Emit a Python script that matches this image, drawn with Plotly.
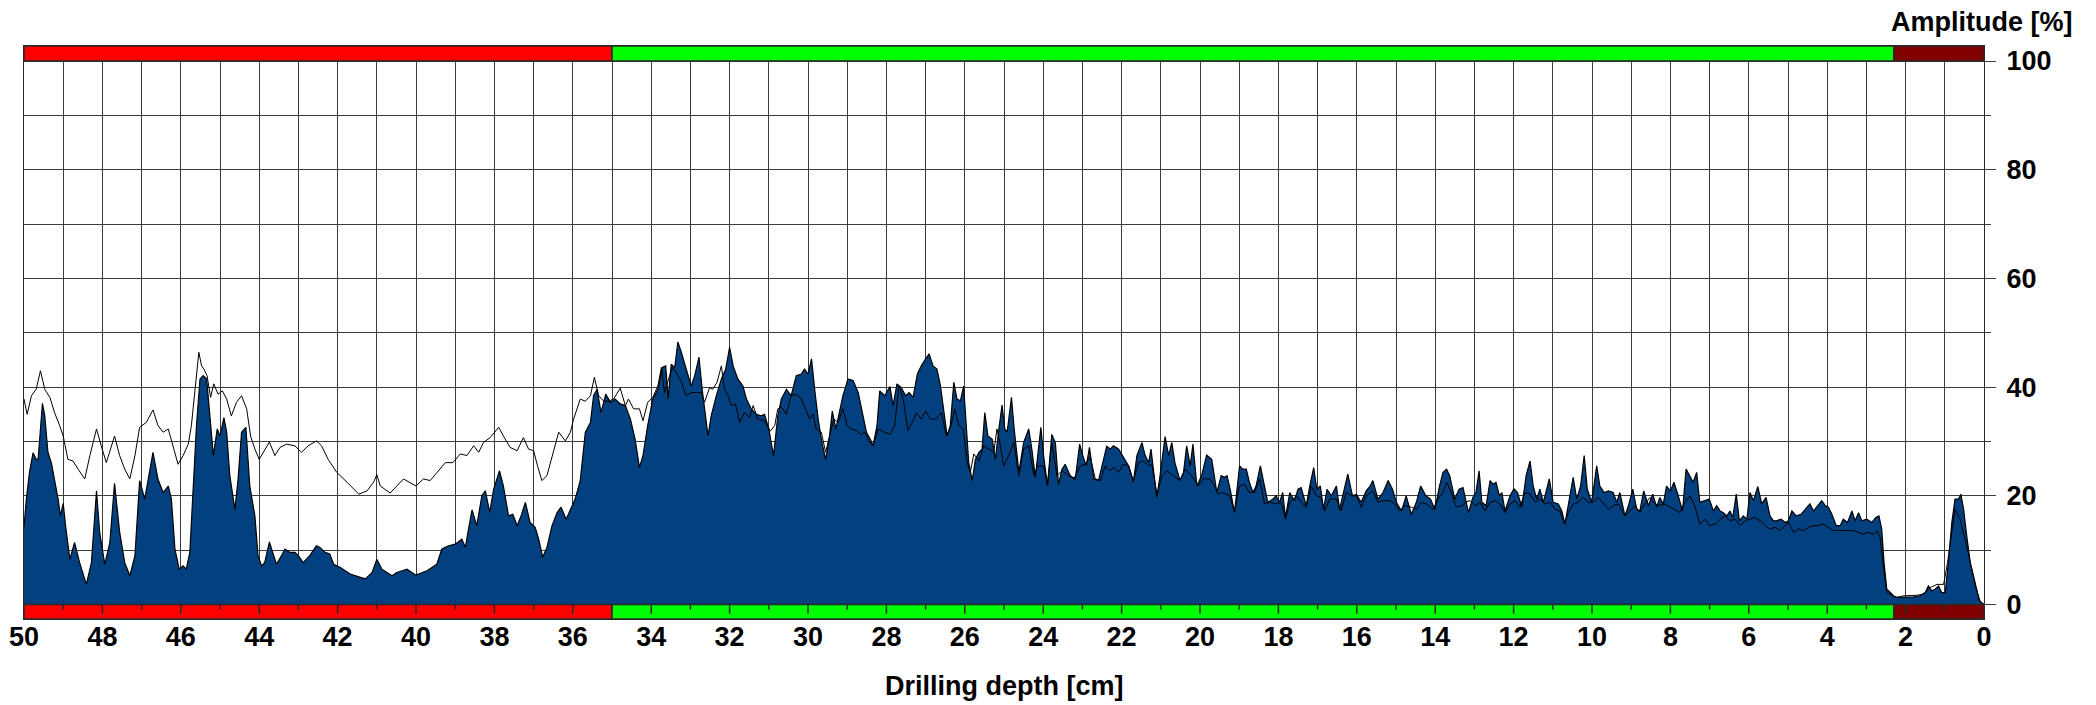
import plotly.graph_objects as go

# ---------------- data ----------------
drill_points = [
    (50.00, 14.2), (49.94, 19.4), (49.86, 24.3), (49.77, 27.9), (49.69, 26.7), (49.64, 26.7), (49.60, 30.4),
    (49.53, 37.0), (49.47, 34.7), (49.39, 28.0), (49.30, 26.0), (49.22, 23.0), (49.13, 19.4), (49.07, 16.3),
    (49.00, 18.6), (48.94, 14.5), (48.83, 8.3), (48.71, 11.4), (48.58, 7.7), (48.41, 3.7), (48.28, 7.7),
    (48.15, 20.9), (48.07, 13.3), (47.94, 7.4), (47.81, 11.4), (47.69, 22.3), (47.56, 13.3), (47.43, 7.7),
    (47.30, 5.3), (47.17, 9.0), (47.05, 22.8), (46.92, 19.4), (46.81, 23.7), (46.71, 28.0), (46.58, 23.0),
    (46.45, 20.6), (46.32, 21.8), (46.24, 19.4), (46.15, 10.2), (46.04, 6.5), (45.94, 7.1), (45.86, 6.5),
    (45.77, 9.6), (45.69, 20.6), (45.60, 32.9), (45.51, 41.5), (45.43, 42.1), (45.34, 41.5), (45.26, 34.7),
    (45.17, 27.4), (45.07, 32.3), (45.00, 31.0), (44.90, 34.4), (44.83, 31.7), (44.75, 23.7), (44.62, 17.5),
    (44.54, 23.0), (44.45, 31.7), (44.34, 32.6), (44.24, 21.8), (44.11, 16.3), (44.03, 9.0), (43.94, 7.1),
    (43.86, 7.7), (43.74, 11.5), (43.66, 9.6), (43.56, 7.4), (43.43, 9.0), (43.34, 10.2), (43.22, 9.6),
    (43.09, 9.6), (43.00, 9.0), (42.88, 7.7), (42.71, 9.0), (42.54, 10.8), (42.45, 10.5), (42.32, 9.6),
    (42.20, 9.3),
    (42.10, 7.4), (41.93, 6.8), (41.68, 5.6), (41.42, 5.0), (41.29, 4.7), (41.12, 5.9), (41.00, 8.3),
    (40.87, 6.5), (40.61, 5.3), (40.49, 5.9), (40.23, 6.5), (40.00, 5.4), (39.72, 6.2), (39.47, 7.4),
    (39.34, 10.2), (39.17, 10.8), (39.00, 11.1), (38.83, 12.0), (38.74, 10.5), (38.66, 13.9), (38.57, 17.4),
    (38.45, 14.5), (38.32, 20.0), (38.23, 20.9), (38.12, 16.9), (38.02, 21.2), (37.87, 24.6), (37.77, 21.8),
    (37.64, 16.3), (37.53, 16.6), (37.42, 14.5), (37.32, 16.3), (37.21, 18.8), (37.09, 15.1), (36.96, 14.2),
    (36.87, 12.0), (36.77, 8.7), (36.66, 10.5), (36.53, 14.5), (36.40, 16.9), (36.30, 17.9), (36.17, 15.7),
    (36.06, 17.5), (35.94, 19.4), (35.81, 22.8), (35.68, 31.7), (35.55, 33.5), (35.47, 38.4), (35.38, 39.6),
    (35.28, 35.3), (35.16, 38.7), (35.04, 37.2), (34.92, 37.8), (34.79, 36.9), (34.66, 36.6), (34.53, 34.1),
    (34.41, 30.4),
    (34.30, 25.2), (34.21, 27.4), (34.09, 32.9), (33.96, 37.8), (33.83, 39.6), (33.72, 43.6), (33.63, 43.9),
    (33.57, 37.8), (33.49, 44.2), (33.40, 43.6), (33.32, 48.3), (33.23, 46.4), (33.11, 43.3), (32.98, 40.2),
    (32.89, 42.1), (32.78, 45.5), (32.70, 39.6), (32.61, 34.7), (32.55, 31.0), (32.47, 34.7), (32.34, 38.4),
    (32.21, 41.5), (32.10, 43.3), (32.00, 47.3), (31.91, 43.9), (31.79, 41.5), (31.66, 40.2), (31.57, 37.8),
    (31.45, 36.0), (31.32, 35.0), (31.19, 34.7), (31.11, 35.0), (31.00, 32.3), (30.88, 27.4), (30.77, 34.7),
    (30.68, 37.8), (30.55, 39.6), (30.43, 38.4), (30.30, 42.1), (30.17, 42.4), (30.09, 43.3), (30.00, 42.4),
    (29.91, 45.2), (29.83, 39.6), (29.74, 34.1), (29.66, 30.4), (29.55, 26.7), (29.46, 30.4), (29.38, 35.6),
    (29.29, 32.3), (29.21, 35.0), (29.11, 38.4), (28.98, 41.5), (28.85, 41.2), (28.72, 39.0), (28.61, 35.3),
    (28.51, 31.7), (28.41, 30.4), (28.34, 29.2), (28.24, 32.9), (28.17, 39.3), (28.04, 38.4), (27.91, 40.1),
    (27.83, 36.6), (27.73, 40.6), (27.62, 39.9), (27.51, 38.4), (27.42, 39.0), (27.32, 38.1), (27.21, 42.4),
    (27.11, 43.9), (27.00, 45.2), (26.91, 46.1), (26.81, 43.9), (26.71, 43.3), (26.62, 40.2), (26.54, 36.0),
    (26.45, 31.0), (26.37, 32.9), (26.28, 40.9), (26.20, 37.8), (26.11, 37.5),
    (26.03, 40.2), (25.96, 32.3), (25.90, 26.1), (25.81, 22.8), (25.73, 26.7), (25.64, 28.0), (25.56, 28.6),
    (25.49, 35.3), (25.41, 31.0), (25.30, 30.4), (25.22, 26.7), (25.13, 32.3), (25.05, 36.7), (24.98, 32.3),
    (24.92, 31.7), (24.81, 38.1), (24.74, 32.3), (24.62, 24.3), (24.50, 29.8), (24.37, 32.3), (24.29, 28.6),
    (24.20, 23.4), (24.06, 32.6), (23.99, 27.4), (23.89, 21.8), (23.78, 31.3), (23.69, 29.8), (23.61, 22.1),
    (23.52, 24.9), (23.44, 25.8), (23.31, 23.7), (23.18, 23.1), (23.07, 29.5), (22.99, 27.4), (22.90, 25.5),
    (22.82, 28.9), (22.71, 23.1), (22.59, 22.8), (22.46, 26.7), (22.38, 29.1), (22.29, 28.6), (22.21, 29.2),
    (22.08, 28.6), (21.96, 27.1), (21.82, 25.5), (21.70, 22.5), (21.61, 27.4), (21.48, 29.8), (21.40, 27.4),
    (21.31, 26.1), (21.25, 28.6), (21.19, 24.9), (21.10, 19.7), (21.02, 23.7), (20.89, 30.9), (20.80, 27.4),
    (20.72, 29.8), (20.64, 26.1), (20.51, 22.8), (20.42, 24.3), (20.34, 29.2), (20.25, 25.5), (20.18, 29.5),
    (20.08, 21.8), (19.96, 23.7), (19.83, 27.5), (19.70, 26.7),
    (19.57, 20.6), (19.46, 23.7), (19.37, 23.4), (19.31, 23.7), (19.23, 21.2), (19.12, 16.9), (18.99, 25.5),
    (18.91, 24.9), (18.82, 24.9), (18.74, 22.5), (18.65, 20.6), (18.57, 21.8), (18.46, 25.5), (18.35, 21.2),
    (18.27, 18.8), (18.14, 19.4), (18.06, 20.0), (17.97, 18.8), (17.89, 20.6), (17.82, 16.0), (17.71, 20.6),
    (17.59, 19.1), (17.50, 21.2), (17.42, 21.5), (17.29, 18.2), (17.20, 21.8), (17.10, 25.2), (17.02, 21.2),
    (16.93, 21.8), (16.85, 17.5), (16.76, 21.2), (16.65, 20.0), (16.52, 21.8), (16.44, 17.5), (16.34, 20.6),
    (16.23, 24.0), (16.11, 20.0), (16.01, 20.3), (15.89, 18.8), (15.76, 20.9), (15.66, 21.8), (15.59, 22.8),
    (15.46, 19.4), (15.33, 20.6), (15.20, 22.8), (15.09, 21.2), (14.99, 18.8), (14.86, 17.2), (14.74, 20.0),
    (14.61, 16.6), (14.48, 18.8), (14.37, 21.8), (14.24, 20.0), (14.12, 19.4), (14.01, 17.5), (13.89, 21.8),
    (13.80, 24.3), (13.71, 24.9), (13.63, 23.7), (13.50, 19.4), (13.39, 21.2), (13.29, 21.5),
    (13.15, 16.9), (13.04, 19.7), (12.96, 20.6), (12.88, 24.6), (12.81, 18.8), (12.70, 18.2), (12.60, 22.8),
    (12.52, 22.1), (12.45, 22.5), (12.36, 20.0), (12.30, 20.6), (12.22, 17.2), (12.09, 20.0), (11.99, 21.3),
    (11.90, 20.6), (11.79, 17.9), (11.68, 23.7), (11.58, 26.4), (11.50, 21.8), (11.41, 19.4), (11.33, 21.2),
    (11.24, 18.8), (11.09, 23.1), (10.99, 18.8), (10.86, 18.5), (10.77, 17.2), (10.69, 14.8), (10.60, 18.2),
    (10.48, 23.4), (10.39, 19.4), (10.29, 21.8), (10.20, 27.4), (10.12, 21.2), (10.01, 18.8), (9.88, 25.5),
    (9.80, 21.8), (9.69, 20.6), (9.58, 20.9), (9.46, 20.6), (9.37, 18.8), (9.29, 20.6), (9.16, 16.3),
    (9.07, 18.2), (8.96, 21.2), (8.86, 17.5), (8.78, 17.2), (8.68, 20.9), (8.56, 18.2), (8.45, 20.3),
    (8.35, 17.9), (8.27, 19.7), (8.18, 18.5), (8.10, 21.8), (8.00, 20.9), (7.91, 22.5), (7.80, 20.0),
    (7.69, 17.2), (7.60, 24.9), (7.50, 23.7), (7.42, 22.5), (7.33, 24.3), (7.25, 18.8), (7.12, 19.1),
    (7.01, 19.4),
    (6.90, 17.2), (6.82, 18.2), (6.73, 17.2), (6.65, 16.9), (6.56, 16.3), (6.48, 17.2), (6.41, 16.0),
    (6.32, 20.3), (6.24, 15.4), (6.14, 16.3), (6.05, 15.7), (5.97, 20.6), (5.88, 19.1), (5.77, 21.7),
    (5.67, 18.5), (5.56, 19.7), (5.46, 16.3), (5.37, 15.4), (5.29, 15.4), (5.18, 15.7), (5.07, 15.1),
    (4.99, 15.4), (4.90, 17.2), (4.79, 16.3), (4.67, 16.6), (4.56, 17.5), (4.44, 18.5), (4.35, 17.2),
    (4.25, 18.2), (4.14, 19.1), (4.05, 18.2), (3.97, 17.9), (3.88, 16.6), (3.77, 14.5), (3.67, 14.5),
    (3.59, 15.7), (3.48, 15.1), (3.37, 17.2), (3.29, 15.4), (3.20, 16.9), (3.12, 15.4), (2.99, 15.7),
    (2.86, 15.1), (2.76, 16.0), (2.68, 16.3), (2.61, 13.9), (2.55, 7.7), (2.48, 2.8), (2.39, 2.2),
    (2.31, 1.6), (2.22, 1.3), (2.10, 1.3), (1.97, 1.3), (1.80, 1.4), (1.63, 1.6), (1.50, 2.2), (1.42, 3.4),
    (1.33, 2.5), (1.25, 2.8), (1.16, 3.4), (1.08, 2.2), (0.99, 2.2), (0.91, 7.7), (0.82, 15.1), (0.74, 19.4),
    (0.65, 19.4), (0.59, 20.3), (0.52, 17.5), (0.44, 12.6), (0.35, 7.7), (0.27, 5.3), (0.18, 2.2),
    (0.12, 0.7), (0.00, 0.0),
]

feed_points = [
    (50.00, 37.8), (49.92, 35.0), (49.81, 38.4), (49.69, 39.6), (49.58, 43.0), (49.47, 39.6), (49.34, 38.1),
    (49.22, 35.3), (49.09, 32.9), (49.00, 31.0), (48.88, 26.7), (48.75, 26.4), (48.62, 24.9), (48.45, 23.1),
    (48.32, 27.4), (48.15, 32.3), (48.03, 29.2), (47.90, 26.1), (47.69, 31.0), (47.56, 27.4), (47.43, 24.9),
    (47.30, 23.1), (47.17, 27.4), (47.05, 32.6), (46.88, 33.5), (46.71, 35.8), (46.58, 32.9), (46.45, 31.7),
    (46.32, 32.3), (46.20, 29.2), (46.07, 25.8), (45.94, 27.4), (45.81, 29.5), (45.73, 32.9), (45.64, 39.0),
    (45.54, 46.4), (45.47, 43.9), (45.41, 43.3), (45.33, 42.1), (45.24, 38.1), (45.16, 40.6), (45.05, 38.7),
    (44.94, 39.3), (44.83, 37.8), (44.71, 34.7), (44.58, 37.2), (44.45, 38.4), (44.32, 36.0), (44.22, 31.0),
    (44.11, 28.6), (44.00, 26.7), (43.90, 28.0), (43.74, 29.9), (43.60, 27.4), (43.47, 28.9), (43.30, 29.5),
    (43.09, 29.2), (42.92, 28.0), (42.75, 29.2), (42.54, 30.1), (42.41, 29.2), (42.24, 26.7),
    (42.02, 24.3), (41.76, 22.5), (41.46, 20.3), (41.25, 20.9), (41.08, 22.5), (41.00, 23.9), (40.91, 21.8),
    (40.66, 20.5), (40.49, 21.8), (40.32, 23.1), (40.00, 21.8), (39.81, 23.1), (39.64, 22.8), (39.42, 24.6),
    (39.25, 26.1), (39.06, 26.1), (38.87, 27.7), (38.70, 27.4), (38.53, 29.2), (38.40, 28.0), (38.28, 29.8),
    (38.11, 30.7), (37.89, 32.6), (37.77, 31.0), (37.60, 28.9), (37.42, 28.3), (37.26, 30.7), (37.13, 28.6),
    (37.00, 28.3), (36.90, 25.5), (36.79, 22.8), (36.66, 23.7), (36.53, 27.4), (36.36, 31.7), (36.19, 30.1),
    (36.06, 31.7), (35.98, 34.1), (35.81, 37.8), (35.68, 37.4), (35.55, 38.4), (35.45, 41.8), (35.34, 38.4),
    (35.21, 37.4), (35.09, 37.4), (34.96, 37.8), (34.79, 39.8), (34.66, 36.6), (34.58, 37.8), (34.45, 36.0),
    (34.30, 36.0), (34.21, 33.8), (34.09, 37.2), (33.96, 38.1), (33.83, 40.2), (33.74, 43.6), (33.66, 39.0),
    (33.53, 42.1), (33.45, 43.6), (33.36, 42.7), (33.23, 40.9), (33.11, 38.4), (32.98, 39.0), (32.85, 39.0),
    (32.72, 39.0), (32.64, 37.2), (32.51, 39.9), (32.43, 39.6), (32.32, 40.9), (32.21, 43.9), (32.13, 39.6),
    (32.04, 38.4), (31.96, 36.6), (31.85, 36.9), (31.74, 33.5), (31.62, 35.3), (31.49, 34.4), (31.40, 36.6),
    (31.28, 34.1), (31.11, 33.8), (30.96, 31.9), (30.85, 32.9), (30.77, 36.0), (30.68, 36.3), (30.55, 35.0),
    (30.43, 38.4), (30.30, 38.7), (30.17, 37.8), (30.04, 35.3), (29.96, 34.1), (29.87, 35.0), (29.79, 32.3),
    (29.66, 31.7), (29.55, 28.0), (29.45, 31.0), (29.34, 34.1), (29.23, 33.5), (29.11, 36.0), (29.00, 32.9),
    (28.89, 32.3), (28.77, 32.0), (28.66, 31.3), (28.55, 31.7), (28.43, 29.8), (28.34, 29.2), (28.21, 32.3),
    (28.04, 31.7), (27.91, 31.3), (27.79, 32.9), (27.68, 40.2), (27.57, 37.7), (27.45, 32.0), (27.34, 33.5),
    (27.23, 35.3), (27.11, 34.1), (27.00, 35.6), (26.88, 34.1), (26.73, 34.1), (26.60, 35.3), (26.47, 31.0),
    (26.35, 32.9), (26.26, 36.0), (26.15, 32.9), (26.04, 32.3),
    (25.94, 26.1), (25.86, 24.3), (25.77, 27.7), (25.64, 26.4), (25.52, 29.2), (25.39, 28.6), (25.26, 28.0),
    (25.18, 32.3), (25.09, 29.2), (25.01, 25.5), (24.88, 27.4), (24.75, 29.8), (24.62, 23.7), (24.50, 28.6),
    (24.37, 29.2), (24.24, 23.7), (24.14, 25.5), (23.99, 25.5), (23.89, 22.1), (23.78, 29.8), (23.65, 23.7),
    (23.52, 24.6), (23.39, 24.0), (23.22, 23.1), (23.05, 25.5), (22.93, 25.8), (22.80, 27.1), (22.67, 23.1),
    (22.54, 22.8), (22.42, 25.5), (22.31, 24.6), (22.19, 25.2), (22.08, 24.3), (21.96, 25.8), (21.82, 25.5),
    (21.70, 22.8), (21.57, 26.1), (21.44, 26.4), (21.31, 25.5), (21.23, 25.8), (21.10, 20.3), (20.97, 23.7),
    (20.85, 24.6), (20.68, 23.7), (20.51, 22.8), (20.38, 24.9), (20.25, 24.0), (20.13, 22.8), (20.04, 21.8),
    (19.92, 23.1), (19.75, 23.1),
    (19.63, 21.8), (19.54, 20.3), (19.42, 20.6), (19.25, 20.0), (19.12, 17.2), (18.99, 21.8), (18.86, 22.1),
    (18.74, 20.6), (18.61, 20.6), (18.48, 23.1), (18.35, 18.5), (18.23, 18.8), (18.06, 18.5), (17.93, 18.8),
    (17.82, 15.7), (17.71, 18.8), (17.54, 20.0), (17.42, 18.8), (17.29, 17.9), (17.16, 21.8), (17.03, 20.0),
    (16.91, 19.7), (16.82, 17.2), (16.69, 19.4), (16.52, 19.4), (16.40, 17.2), (16.27, 20.6), (16.14, 20.0),
    (16.01, 20.0), (15.89, 17.9), (15.76, 20.0), (15.59, 20.9), (15.46, 18.8), (15.33, 19.1), (15.16, 19.1),
    (15.03, 18.5), (14.91, 17.2), (14.78, 18.2), (14.61, 17.9), (14.48, 17.5), (14.35, 18.8), (14.23, 18.5),
    (14.06, 17.5), (13.93, 19.4), (13.80, 20.6), (13.71, 22.5), (13.59, 20.6), (13.46, 17.9), (13.29, 18.2),
    (13.24, 18.8), (13.11, 19.1), (12.98, 18.2), (12.86, 18.8), (12.73, 17.2), (12.60, 18.8), (12.47, 19.1),
    (12.35, 18.5), (12.22, 16.9), (12.09, 18.5), (11.96, 19.1), (11.84, 17.9), (11.71, 20.6), (11.58, 20.3),
    (11.45, 18.8), (11.33, 19.4), (11.20, 18.5), (11.07, 18.8), (10.94, 17.5), (10.82, 17.2), (10.71, 15.0),
    (10.60, 16.9), (10.48, 18.5), (10.35, 18.8), (10.22, 19.7), (10.09, 18.8), (9.97, 18.8), (9.84, 19.7),
    (9.71, 18.5), (9.58, 17.5), (9.46, 18.2), (9.33, 18.5), (9.16, 16.3), (9.03, 17.2), (8.90, 18.2),
    (8.78, 16.9), (8.65, 18.5), (8.52, 19.7), (8.39, 18.5), (8.27, 18.2), (8.14, 18.5), (8.01, 17.9),
    (7.89, 17.5), (7.76, 16.9), (7.63, 18.8), (7.50, 20.0), (7.38, 18.2), (7.25, 14.8), (7.12, 15.7),
    (7.00, 14.5),
    (6.86, 14.8), (6.73, 15.7), (6.60, 16.3), (6.48, 15.4), (6.35, 15.7), (6.22, 14.5), (6.09, 15.4),
    (5.97, 15.7), (5.84, 16.0), (5.71, 15.4), (5.58, 14.5), (5.46, 13.9), (5.33, 14.2), (5.20, 13.6),
    (5.12, 14.2), (4.99, 15.1), (4.86, 13.3), (4.73, 13.9), (4.61, 13.6), (4.48, 14.2), (4.35, 14.5),
    (4.22, 14.5), (4.10, 14.8), (3.97, 14.2), (3.84, 13.6), (3.67, 13.6), (3.50, 13.6), (3.33, 13.6),
    (3.20, 13.3), (3.07, 12.9), (2.95, 13.3), (2.82, 12.9), (2.73, 13.6), (2.65, 12.3), (2.56, 6.5),
    (2.48, 2.2), (2.35, 1.6), (2.22, 1.3), (2.05, 1.6), (1.88, 1.6), (1.71, 1.7), (1.54, 1.9), (1.37, 3.1),
    (1.20, 3.7), (1.03, 3.7), (0.93, 7.7), (0.82, 13.9), (0.74, 17.5), (0.61, 15.7), (0.48, 12.0),
    (0.35, 7.7), (0.22, 3.4), (0.09, 0.4), (0.00, 0.0),
]

drill_depth = [p[0] for p in drill_points]
drill_amp = [p[1] for p in drill_points]
feed_depth = [p[0] for p in feed_points]
feed_amp = [p[1] for p in feed_points]

# assessment zones along the drilling path
zone_start = [50.0, 35.0, 2.3]
zone_end = [35.0, 2.3, 0.0]
zone_color = ["#FF0000", "#00FF00", "#800000"]

x_labels = list(range(0, 51, 2))
y_labels = list(range(0, 101, 20))

# ---------------- figure ----------------
FONT = "Liberation Sans, Arial, Helvetica, sans-serif"
BLUE = "#02407F"
GRID = "#3c3c3c"
Y_LO, Y_HI = -2.67, 102.76

fig = go.Figure()
fig.add_trace(go.Scatter(
    x=drill_depth, y=drill_amp, mode="lines", fill="tozeroy",
    fillcolor=BLUE, line=dict(color="#000000", width=1.2), hoverinfo="skip",
))
fig.add_trace(go.Scatter(
    x=feed_depth, y=feed_amp, mode="lines",
    line=dict(color="#000000", width=1), hoverinfo="skip",
))

shapes = []
for s, e, c in zip(zone_start, zone_end, zone_color):
    shapes.append(dict(type="rect", xref="x", yref="y", x0=s, x1=e, y0=100, y1=Y_HI,
                       fillcolor=c, line=dict(color="#2a2a2a", width=1.5), layer="above"))
    shapes.append(dict(type="rect", xref="x", yref="y", x0=s, x1=e, y0=Y_LO, y1=0,
                       fillcolor=c, line=dict(color="#2a2a2a", width=1.5), layer="above"))
# small tick marks hanging into the lower bar
for d in range(1, 50):
    ln = 1.7 if d % 2 == 0 else 0.95
    shapes.append(dict(type="line", xref="x", yref="y", x0=d, x1=d, y0=0, y1=-ln,
                       line=dict(color="#2a2a2a", width=1.5), layer="above"))

tickfont = dict(family=FONT, size=27, color="#000000", weight="bold")

fig.update_layout(
    width=2096, height=705,
    margin=dict(l=16, r=120, t=38, b=94, autoexpand=False),
    paper_bgcolor="white", plot_bgcolor="white",
    showlegend=False,
    shapes=shapes,
    xaxis=dict(
        range=[50, 0], tickmode="array", tickvals=x_labels, ticktext=[str(v) for v in x_labels],
        showgrid=True, gridcolor=GRID, gridwidth=1,
        minor=dict(tickmode="linear", tick0=0, dtick=1, showgrid=True, gridcolor=GRID, gridwidth=1),
        ticks="", tickfont=tickfont, ticklabelstandoff=-6, automargin=False,
        showline=True, linecolor="#2a2a2a", linewidth=1, mirror=True, zeroline=False,
    ),
    yaxis=dict(
        range=[Y_LO, Y_HI], side="right", tickmode="array", tickvals=y_labels,
        ticktext=[str(v) for v in y_labels],
        showgrid=True, gridcolor=GRID, gridwidth=1,
        ticks="outside", ticklen=11, tickcolor=GRID, tickwidth=1,
        minor=dict(tickmode="linear", tick0=0, dtick=10, showgrid=True, gridcolor=GRID, gridwidth=1,
                   ticks="outside", ticklen=6, tickcolor=GRID),
        tickfont=tickfont, ticklabelstandoff=5, automargin=False,
        showline=True, linecolor="#2a2a2a", linewidth=1, mirror=True, zeroline=False,
    ),
    annotations=[
        dict(text="Amplitude [%]", xref="paper", yref="paper", x=1.0462, y=1.0419,
             xanchor="right", yanchor="middle", showarrow=False,
             font=dict(family=FONT, size=27, color="#000000", weight="bold")),
        dict(text="Drilling depth [cm]", xref="paper", yref="paper", x=0.5, y=-0.117,
             xanchor="center", yanchor="middle", showarrow=False,
             font=dict(family=FONT, size=27, color="#000000", weight="bold")),
    ],
)

fig.write_html("out.html")
